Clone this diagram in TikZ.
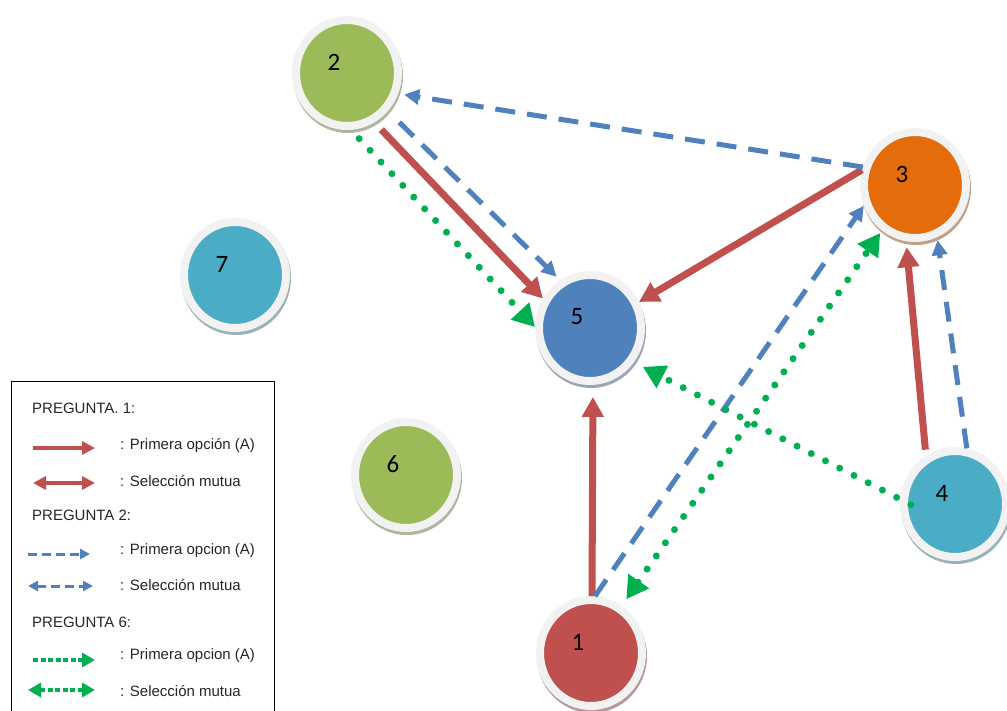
\documentclass[tikz,border=0pt]{standalone}
\usepackage{fontspec}
\setmainfont{Liberation Sans}
\newfontfamily\numfont{Carlito}
\usetikzlibrary{shapes.geometric,arrows.meta}
\definecolor{rojo}{HTML}{C0504D}
\definecolor{verde}{HTML}{9BBB59}
\definecolor{naranja}{HTML}{E46C0A}
\definecolor{azul}{HTML}{4F81BD}
\definecolor{celeste}{HTML}{4BACC6}
\definecolor{anillo}{HTML}{F2F2F2}
\definecolor{verdef}{HTML}{00B050}
\definecolor{texto}{HTML}{262626}

\tikzset{
  alumno/.style={ellipse, minimum width=102pt, minimum height=106pt, inner sep=0pt,
    line width=8pt, draw=anillo, fill=#1,
    preaction={draw=#1!40!gray!70, transform canvas={xshift=1pt,yshift=-3pt}}},
  num/.style={label={[font=\numfont\fontsize{25pt}{28pt}\selectfont, xshift=-13pt, yshift=11pt]center:#1}},
  preg1/.style={rojo, line width=7pt, >={Triangle[length=20pt,width=21pt]}, ->},
  preg2/.style={azul, line width=5pt, dash pattern=on 20pt off 12pt, >={Triangle[length=15pt,width=15pt]}, ->},
  preg6/.style={verdef, line width=7pt, line cap=round, dash pattern=on 0pt off 16pt, >={Triangle[length=22pt,width=24pt]}, ->},
  ley1/.style={rojo, line width=4pt, >={Triangle[length=13pt,width=13pt]}, ->},
  ley2/.style={azul, line width=3pt, dash pattern=on 9pt off 5pt, >={Triangle[length=10pt,width=10pt]}, ->},
  ley6/.style={verdef, line width=4.5pt, dash pattern=on 5pt off 2.5pt, >={Triangle[length=13pt,width=14pt]}, ->},
  ley/.style={anchor=west, inner sep=0pt, text=texto, font=\fontsize{15pt}{18pt}\selectfont}
}

\begin{document}
\begin{tikzpicture}[x=1pt, y=-1pt]
    \useasboundingbox (0,0) rectangle (1007,710);

    % alumnos
    \node[alumno=verde, num=2] (n2) at (347,73) {};
    \node[alumno=naranja, num=3] (n3) at (915,185) {};
    \node[alumno=celeste, num=7] (n7) at (235,275) {};
    \node[alumno=azul, num=5] (n5) at (590,328) {};
    \node[alumno=verde, num=6] (n6) at (406,475) {};
    \node[alumno=celeste, num=4] (n4) at (955,504) {};
    \node[alumno=rojo, num=1] (n1) at (591,653) {};

    % pregunta 1
    \draw[preg1, shorten <=10pt] (n2.-61) -- (n5.148);
    \draw[preg1] (n3.164) -- (n5.28);
    \draw[preg1, shorten >=12pt] (n1.89) -- (n5.-87);
    \draw[preg1, shorten <=6pt, shorten >=6pt] (n4.121) -- (n3.261);

    % pregunta 2
    \draw[preg2, shorten >=6pt] (n3.161) -- (n2.-22);
    \draw[preg2, shorten <=16pt, shorten >=5pt] (n2.-43) -- (n5.122);
    \draw[preg2] (n1.86) -- (n3.202);
    \draw[preg2, shorten >=3pt] (n4.78) -- (n3.-67);

    % pregunta 6
    \draw[preg6, shorten <=12pt] (n2.-86) -- (n5.179);
    \draw[preg6, <->, shorten <=8pt, shorten >=3pt] (n1.57) -- (n3.234);
    \draw[preg6, shorten <=-12pt, shorten >=10pt] (n4.175) -- (n5.-38);

    % leyenda
    \draw[line width=1pt] (11,381) rectangle (274,730);
    \node[ley] (p1) at (32,408) {PREGUNTA. 1:};
    \node[ley] (t1) at (120,446) {: Primera opción (A)};
    \node[ley] (t2) at (120,481) {: Selección mutua};
    \node[ley] (p2) at (32,515) {PREGUNTA 2:};
    \node[ley] (t3) at (120,551) {: Primera opcion (A)};
    \node[ley] (t4) at (120,585) {: Selección mutua};
    \node[ley] (p6) at (32,622) {PREGUNTA 6:};
    \node[ley] (t5) at (120,656) {: Primera opcion (A)};
    \node[ley] (t6) at (120,691) {: Selección mutua};

    \draw[ley1] ([xshift=-87pt,yshift=-2pt]t1.west) -- ([xshift=-25pt,yshift=-2pt]t1.west);
    \draw[ley1, <->] ([xshift=-87pt,yshift=-2pt]t2.west) -- ([xshift=-25pt,yshift=-2pt]t2.west);
    \draw[ley2] ([xshift=-92pt,yshift=-3pt]t3.west) -- ([xshift=-30pt,yshift=-3pt]t3.west);
    \draw[ley2, <->] ([xshift=-92pt,yshift=-1pt]t4.west) -- ([xshift=-27pt,yshift=-1pt]t4.west);
    \draw[ley6] ([xshift=-87pt,yshift=-4pt]t5.west) -- ([xshift=-25pt,yshift=-4pt]t5.west);
    \draw[ley6, <->] ([xshift=-92pt,yshift=1pt]t6.west) -- ([xshift=-25pt,yshift=1pt]t6.west);
\end{tikzpicture}
\end{document}
